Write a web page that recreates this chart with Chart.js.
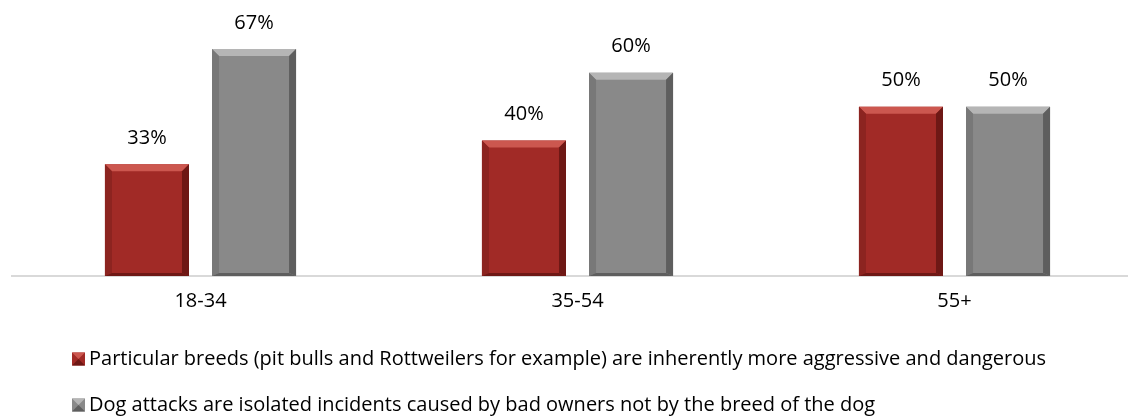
<!DOCTYPE html>
<html>
<head>
<meta charset="utf-8">
<script src="https://cdn.jsdelivr.net/npm/chart.js@4.4.1/dist/chart.umd.min.js"></script>
<style>
  html, body { margin: 0; padding: 0; background: #fff; overflow: hidden; }
  #wrap { width: 1143px; height: 417px; }
</style>
</head>
<body>
<div id="wrap"><canvas id="chart" width="1143" height="417"></canvas></div>
<script>
const categories = ['18-34', '35-54', '55+'];
const seriesNames = [
  'Particular breeds (pit bulls and Rottweilers for example) are inherently more aggressive and dangerous',
  'Dog attacks are isolated incidents caused by bad owners not by the breed of the dog'
];
const breedValues = [33, 40, 50];
const ownerValues = [67, 60, 50];

const FONT = '"Open Sans", "Noto Sans", sans-serif';

// pick a text size so the long legend line is about as wide as in the original
const probe = document.createElement('canvas').getContext('2d');
probe.font = '100px ' + FONT;
let textSize = Math.round(100 * 960 / probe.measureText(seriesNames[0]).width * 2) / 2;
if (!isFinite(textSize) || textSize < 12) textSize = 19;

// colours per series: main, light top, dark side
const palette = [
  { main: '#a12a26', light: '#cc574f', dark: '#6e1815', side: '#8c2420' },
  { main: '#898989', light: '#b5b5b5', dark: '#5e5e5e', side: '#787878' }
];

// bevel look drawn over each bar
const bevelPlugin = {
  id: 'bevel',
  afterDatasetsDraw(chart) {
    const ctx = chart.ctx;
    chart.data.datasets.forEach((ds, i) => {
      const meta = chart.getDatasetMeta(i);
      const c = palette[i];
      meta.data.forEach(bar => {
        const l = bar.x - bar.width / 2, r = bar.x + bar.width / 2;
        const t = bar.y, b = bar.base;
        const d = 7;
        ctx.save();
        ctx.fillStyle = c.light;
        ctx.beginPath();
        ctx.moveTo(l, t); ctx.lineTo(r, t); ctx.lineTo(r - d, t + d); ctx.lineTo(l + d, t + d);
        ctx.closePath(); ctx.fill();
        ctx.fillStyle = c.side;
        ctx.beginPath();
        ctx.moveTo(l, t); ctx.lineTo(l + d, t + d); ctx.lineTo(l + d, b - 3); ctx.lineTo(l, b);
        ctx.closePath(); ctx.fill();
        ctx.fillStyle = c.dark;
        ctx.beginPath();
        ctx.moveTo(r, t); ctx.lineTo(r - d, t + d); ctx.lineTo(r - d, b - 3); ctx.lineTo(r, b);
        ctx.closePath(); ctx.fill();
        ctx.beginPath();
        ctx.moveTo(l, b); ctx.lineTo(l + d, b - 3); ctx.lineTo(r - d, b - 3); ctx.lineTo(r, b);
        ctx.closePath(); ctx.fill();
        ctx.restore();
      });
    });
  }
};

// value labels above bars
const valueLabels = {
  id: 'valueLabels',
  afterDatasetsDraw(chart) {
    const ctx = chart.ctx;
    ctx.save();
    ctx.font = textSize + 'px ' + FONT;
    ctx.fillStyle = '#000';
    ctx.textAlign = 'center';
    ctx.textBaseline = 'middle';
    chart.data.datasets.forEach((ds, i) => {
      chart.getDatasetMeta(i).data.forEach((bar, j) => {
        ctx.fillText(ds.data[j] + '%', bar.x, bar.y - 26);
      });
    });
    ctx.restore();
  }
};

// legend, one item per row, left aligned
const rowLegend = {
  id: 'rowLegend',
  afterDraw(chart) {
    const ctx = chart.ctx;
    ctx.save();
    ctx.font = textSize + 'px ' + FONT;
    ctx.textBaseline = 'middle';
    chart.data.datasets.forEach((ds, i) => {
      const y = 359 + i * 46;
      const c = palette[i];
      const x = 72, s = 13;
      ctx.fillStyle = c.main;
      ctx.fillRect(x, y - s / 2, s, s);
      ctx.fillStyle = c.light;
      ctx.beginPath();
      ctx.moveTo(x, y - s / 2); ctx.lineTo(x + s, y - s / 2); ctx.lineTo(x + s / 2, y); ctx.closePath(); ctx.fill();
      ctx.fillStyle = c.dark;
      ctx.beginPath();
      ctx.moveTo(x, y + s / 2); ctx.lineTo(x + s, y + s / 2); ctx.lineTo(x + s / 2, y); ctx.closePath(); ctx.fill();
      ctx.fillStyle = '#000';
      ctx.fillText(ds.label, x + s + 4, y);
    });
    ctx.restore();
  }
};

new Chart(document.getElementById('chart'), {
  type: 'bar',
  data: {
    labels: categories,
    datasets: [
      { label: seriesNames[0], data: breedValues, backgroundColor: palette[0].main },
      { label: seriesNames[1], data: ownerValues, backgroundColor: palette[1].main }
    ]
  },
  options: {
    responsive: false,
    animation: false,
    devicePixelRatio: 1,
    layout: { padding: { left: 12, right: 0, top: 5, bottom: 0 } },
    datasets: { bar: { categoryPercentage: 0.568, barPercentage: 0.785 } },
    plugins: { legend: { display: false }, tooltip: { enabled: false } },
    scales: {
      x: {
        grid: { display: false, drawTicks: false },
        border: { display: true, color: '#d9d9d9', width: 2 },
        ticks: { color: '#000', font: { family: FONT, size: textSize }, padding: 13 },
        afterFit(scale) { scale.height = 141; }
      },
      y: {
        display: false,
        min: 0,
        max: 80
      }
    }
  },
  plugins: [bevelPlugin, valueLabels, rowLegend]
});
</script>
</body>
</html>
